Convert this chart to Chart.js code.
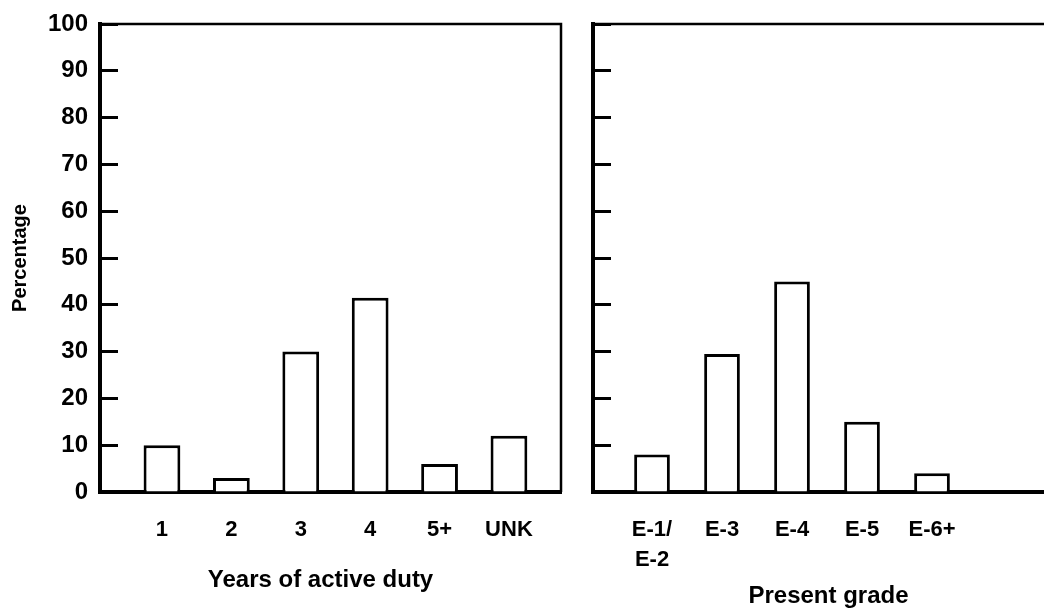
<!DOCTYPE html>
<html>
<head>
<meta charset="utf-8">
<script src="https://cdn.jsdelivr.net/npm/chart.js@4.4.1/dist/chart.umd.min.js"></script>
<style>
  body { margin: 0; background: #fff; }
  canvas { position: absolute; top: 0; }
  #yearsChart { left: 0; }
  #gradeChart { left: 575px; }
</style>
</head>
<body>
<canvas id="yearsChart" width="575" height="615"></canvas>
<canvas id="gradeChart" width="469" height="615"></canvas>
<script>
// data (percent)
const yearLabels = ['1', '2', '3', '4', '5+', 'UNK'];
const yearValues = [10, 3, 30, 41.5, 6, 12];

const gradeLabels = [['E-1/', 'E-2'], 'E-3', 'E-4', 'E-5', 'E-6+'];
const gradeValues = [8, 29.5, 45, 15, 4];

const yTicks = [0, 10, 20, 30, 40, 50, 60, 70, 80, 90, 100];

Chart.defaults.font.family = '"Liberation Sans", Arial, Helvetica, sans-serif';
Chart.defaults.color = '#000';

// top (and right) frame lines around the plot
const framePlugin = {
  id: 'frame',
  afterDraw(chart, args, opts) {
    const ctx = chart.ctx, a = chart.chartArea;
    ctx.save();
    ctx.strokeStyle = '#000';
    ctx.lineWidth = 2.5;
    ctx.beginPath();
    ctx.moveTo(a.left, a.top);
    if (opts.right) {
      ctx.lineTo(a.right, a.top);
      ctx.lineTo(a.right, a.bottom);
    } else {
      ctx.lineTo(chart.width, a.top);
    }
    ctx.stroke();
    ctx.restore();
  }
};

function toPoints(vals) {
  return vals.map((v, i) => ({ x: i + 1, y: v }));
}

function makeChart(id, cfg) {
  const ctx = document.getElementById(id).getContext('2d');
  return new Chart(ctx, {
    type: 'bar',
    data: {
      datasets: [{
        data: toPoints(cfg.values),
        backgroundColor: '#fff',
        borderColor: '#000',
        borderWidth: 3,
        barPercentage: cfg.barPct,
        categoryPercentage: 1
      }]
    },
    options: {
      responsive: false,
      animation: false,
      events: [],
      layout: { autoPadding: false, padding: { top: 24, right: cfg.padRight, left: 0, bottom: 0 } },
      plugins: {
        legend: { display: false },
        tooltip: { enabled: false },
        frame: { right: cfg.frameRight }
      },
      scales: {
        x: {
          type: 'linear',
          position: 'bottom',
          offset: false,
          min: cfg.xMin,
          max: cfg.xMax,
          afterBuildTicks: (s) => { s.ticks = cfg.labels.map((l, i) => ({ value: i + 1 })); },
          ticks: {
            autoSkip: false,
            maxRotation: 0,
            padding: 15,
            font: { size: 22, weight: 'bold', lineHeight: 1.35 },
            callback: (v) => cfg.labels[v - 1]
          },
          grid: { display: false },
          border: { display: true, color: '#000', width: 4 },
          title: {
            display: true,
            text: cfg.xTitle,
            font: { size: 24, weight: 'bold' },
            padding: { top: 0, bottom: cfg.titlePad }
          },
          afterFit: (s) => { s.height = 123; }
        },
        y: {
          min: 0,
          max: 100,
          afterBuildTicks: (s) => { s.ticks = yTicks.map(v => ({ value: v })); },
          ticks: {
            display: cfg.showY,
            padding: 30,
            font: { size: 24, weight: 'bold' }
          },
          grid: {
            drawOnChartArea: false,
            drawTicks: true,
            tickLength: -18,
            tickWidth: 3,
            tickColor: '#000',
            color: '#000'
          },
          border: { display: true, color: '#000', width: 4 },
          title: {
            display: cfg.showY,
            text: 'Percentage',
            font: { size: 20, weight: 'bold' },
            padding: { top: 8, bottom: 0 }
          },
          afterFit: (s) => {
            s.width = cfg.yWidth;
            s.paddingTop = 0;
            s.paddingBottom = 0;
          }
        }
      }
    },
    plugins: [framePlugin]
  });
}

makeChart('yearsChart', {
  labels: yearLabels,
  values: yearValues,
  xMin: 0.107,
  xMax: 6.75,
  barPct: 0.53,
  padRight: 14,
  yWidth: 100,
  showY: true,
  frameRight: true,
  xTitle: 'Years of active duty   ',
  titlePad: 20
});

makeChart('gradeChart', {
  labels: gradeLabels,
  values: gradeValues,
  xMin: 0.157,
  xMax: 6.6,
  barPct: 0.51,
  padRight: 0,
  yWidth: 18,
  showY: false,
  frameRight: false,
  xTitle: '   Present grade',
  titlePad: 4
});
</script>
</body>
</html>
